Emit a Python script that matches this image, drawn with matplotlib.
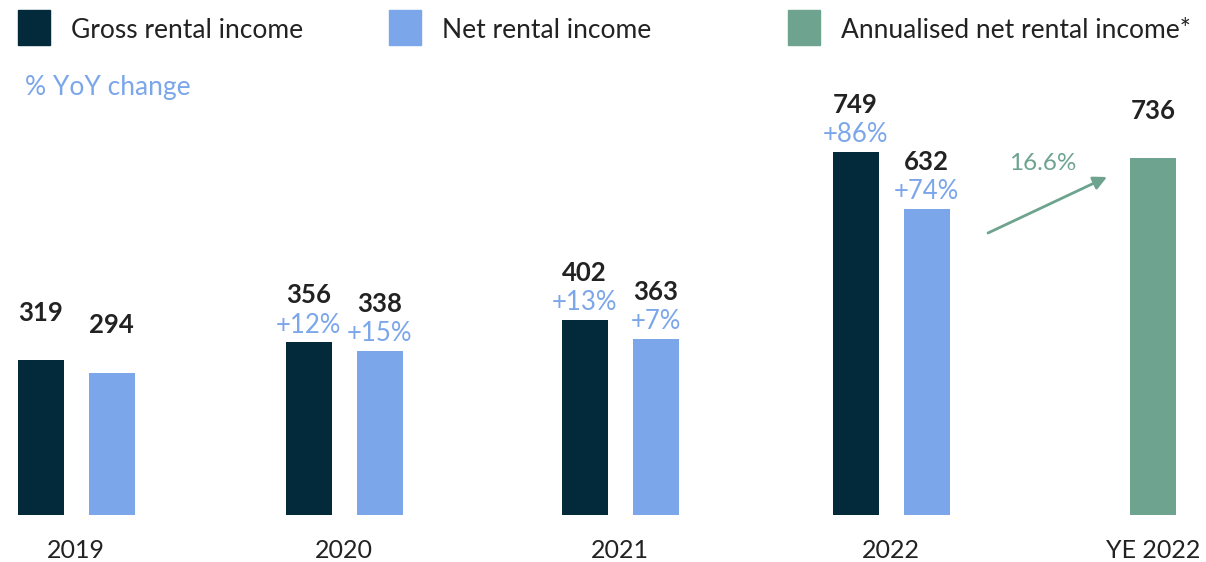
import matplotlib
matplotlib.use("Agg")
import matplotlib.pyplot as plt
from matplotlib.patches import Rectangle

plt.rcParams['font.family'] = ['Lato', 'DejaVu Sans']

# ------------------------------------------------------------------
# Datos
# ------------------------------------------------------------------
years = ["2019", "2020", "2021", "2022"]
gross = [319, 356, 402, 749]
net = [294, 338, 363, 632]
gross_yoy = [None, "+12%", "+13%", "+86%"]
net_yoy = [None, "+15%", "+7%", "+74%"]

annual_label = "YE 2022"
annual_net = 736
growth_label = "16.6%"

legend_labels = ["Gross rental income", "Net rental income",
                 "Annualised net rental income*"]

C_GROSS = "#032a3a"
C_NET = "#7ba6ea"
C_ANNUAL = "#6da38f"
C_TEXT = "#222222"

# ------------------------------------------------------------------
# Figura
# ------------------------------------------------------------------
W, H = 1206, 562
fig = plt.figure(figsize=(W / 100, H / 100), dpi=100)
base_px = 515
ax = fig.add_axes([0, (H - base_px) / H, 1, base_px / H])
ax.set_xlim(0, W)
ax.set_ylim(0, base_px / 0.4846)
ax.axis("off")

group_x = [76, 344, 620, 891]
annual_x = 1153
bar_w = 46
off = 35.5


def label_bar(x, val, pct):
    ax.annotate(f"{val}", (x, val), xytext=(0, 34), textcoords="offset points",
                ha="center", va="center", fontsize=18.5, fontweight="bold",
                color=C_TEXT)
    if pct:
        ax.annotate(pct, (x, val), xytext=(0, 12.5), textcoords="offset points",
                    ha="center", va="center", fontsize=18.5, color=C_NET)


for i, yr in enumerate(years):
    xg = group_x[i] - off
    xn = group_x[i] + off
    ax.bar(xg, gross[i], width=bar_w, color=C_GROSS)
    ax.bar(xn, net[i], width=bar_w, color=C_NET)
    label_bar(xg, gross[i], gross_yoy[i])
    label_bar(xn, net[i], net_yoy[i])

ax.bar(annual_x, annual_net, width=bar_w, color=C_ANNUAL)
label_bar(annual_x, annual_net, None)

# flecha de crecimiento
ax.annotate("", xy=(1107, (base_px - 177) / 0.4846),
            xytext=(988, (base_px - 233) / 0.4846),
            arrowprops=dict(arrowstyle="-|>", color=C_ANNUAL, lw=2,
                            mutation_scale=20, shrinkA=0, shrinkB=0))
ax.text(1043, (base_px - 163) / 0.4846, growth_label, ha="center",
        va="center", fontsize=17.5, color=C_ANNUAL)

# etiquetas de categoría
for x, yr in zip(group_x + [annual_x], years + [annual_label]):
    fig.text(x / W, 1 - 551 / H, yr, ha="center", va="center",
             fontsize=18, color=C_TEXT)

# leyenda
leg_x = [18, 389, 788]
leg_c = [C_GROSS, C_NET, C_ANNUAL]
for x, c, lab in zip(leg_x, leg_c, legend_labels):
    fig.patches.append(Rectangle((x / W, 1 - 45 / H), 32 / W, 35 / H,
                                 transform=fig.transFigure, color=c))
    fig.text((x + 53) / W, 1 - 30 / H, lab, ha="left", va="center",
             fontsize=19, color=C_TEXT)

fig.text(25 / W, 1 - 87 / H, "% YoY change", ha="left", va="center",
         fontsize=19, color=C_NET)

fig.savefig("out.png", dpi=100)
